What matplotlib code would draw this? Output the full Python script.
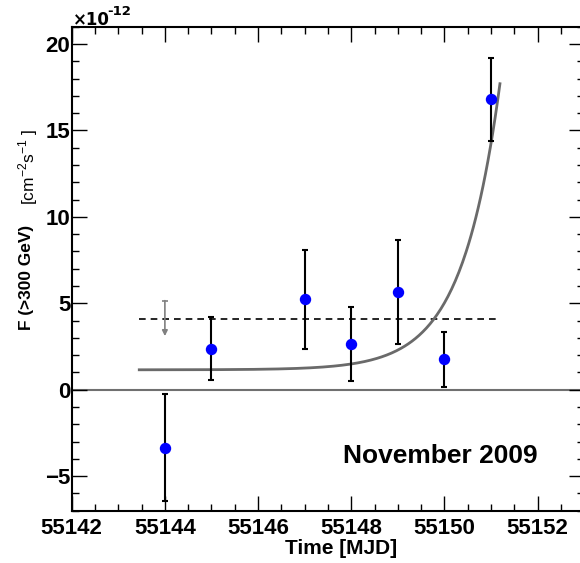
import matplotlib
matplotlib.use("Agg")
import matplotlib.pyplot as plt
import numpy as np
from matplotlib.ticker import MultipleLocator

# nightly flux points, in units of 1e-12 cm^-2 s^-1
mjd = [55144.0, 55145.0, 55147.0, 55148.0, 55149.0, 55150.0, 55151.0]
flux = [-3.35, 2.38, 5.23, 2.63, 5.65, 1.75, 16.8]
flux_err = [3.1, 1.83, 2.85, 2.13, 3.0, 1.57, 2.4]

# upper limit for the first night
ul_mjd = 55144.0
ul_flux = 5.15
ul_arrow = 2.05

# mean flux (dashed) and exponential fit
mean_flux = 4.08
mean_range = (55143.45, 55151.19)
fit_const = 1.15
fit_amp = 16.55
fit_t0 = 55151.19
fit_tau = 0.82

plt.rcParams['font.family'] = ['Liberation Sans', 'DejaVu Sans']
plt.rcParams['mathtext.fontset'] = 'custom'
plt.rcParams['mathtext.rm'] = 'Liberation Sans'

fig = plt.figure(figsize=(5.8, 5.63), dpi=100)
ax = fig.add_axes([0.1236, 0.0929, 0.8838, 0.8597])

ax.axhline(0, color='#707070', lw=1.5, zorder=1)
ax.hlines(mean_flux, *mean_range, colors='black', linestyles=(0, (4, 3)), lw=1.2)

t = np.linspace(mean_range[0], mean_range[1], 300)
ax.plot(t, fit_const + fit_amp * np.exp((t - fit_t0) / fit_tau), color='#6a6a6a', lw=2)

ax.errorbar(mjd, flux, yerr=flux_err, fmt='o', color='blue', ms=7.2,
            ecolor='black', elinewidth=1.5, capsize=2.5, capthick=1.5, zorder=3)

# upper limit arrow
ax.annotate('', xy=(ul_mjd, ul_flux - ul_arrow), xytext=(ul_mjd, ul_flux),
            arrowprops=dict(arrowstyle='-|>', color='#808080', lw=1.2,
                            mutation_scale=8, shrinkA=0, shrinkB=0))
ax.plot([ul_mjd], [ul_flux], marker='_', color='#808080', ms=5, mew=1.2)

ax.set_xlim(55142, 55153)
ax.set_ylim(-7, 21)

ax.xaxis.set_major_locator(MultipleLocator(2))
ax.xaxis.set_minor_locator(MultipleLocator(0.5))
ax.yaxis.set_major_locator(MultipleLocator(5))
ax.yaxis.set_minor_locator(MultipleLocator(1))
ax.tick_params(which='both', direction='in', top=True, right=True, width=1)
ax.tick_params(which='major', length=11)
ax.tick_params(which='minor', length=5)
ax.tick_params(axis='x', which='major', pad=5)
ax.tick_params(axis='y', which='major', pad=1)
for lab in ax.get_xticklabels() + ax.get_yticklabels():
    lab.set_fontsize(16)
    lab.set_fontweight('bold')
for s in ax.spines.values():
    s.set_linewidth(1.5)

ax.set_xlabel('Time [MJD]', fontsize=15, fontweight='bold', labelpad=0)
ax.xaxis.set_label_coords(0.525, -0.0585)

# y label: bold quantity plus regular units
fig.text(26 / 580, 1 - 330 / 563, 'F (>300 GeV)', rotation=90,
         fontsize=12.4, fontweight='bold', ha='center', va='bottom')
fig.text(28 / 580, 1 - 205 / 563, r'[cm$^{-2}$s$^{-1}$ ]', rotation=90,
         fontsize=12.5, ha='center', va='bottom')

# exponent of the flux axis
fig.text(73 / 580, 1 - 25 / 563, '\u00d710', fontsize=12, fontweight='bold',
         family='DejaVu Sans', ha='left', va='baseline')
fig.text(107 / 580, 1 - 15 / 563, '-12', fontsize=9.5, fontweight='bold',
         family='DejaVu Sans', ha='left', va='baseline')

ax.text(55149.92, -3.81, 'November 2009', fontsize=19, fontweight='bold',
        ha='center', va='center')

fig.savefig('out.png', dpi=100)
